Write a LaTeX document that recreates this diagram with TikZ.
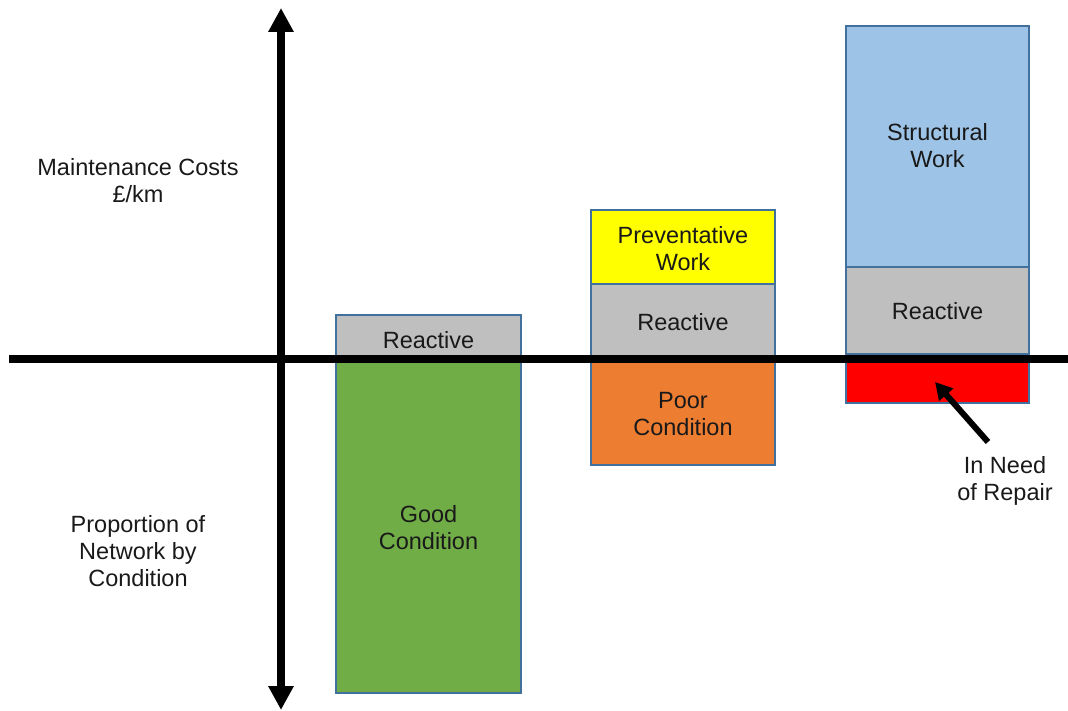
\documentclass[tikz,border=0pt]{standalone}
\usepackage{fontspec}
\setmainfont{Liberation Sans}
\usetikzlibrary{arrows.meta}
\definecolor{reactgrey}{HTML}{BFBFBF}
\definecolor{goodgreen}{HTML}{70AD47}
\definecolor{poororange}{HTML}{ED7D31}
\definecolor{prevyellow}{HTML}{FFFF00}
\definecolor{structblue}{HTML}{9DC3E6}
\definecolor{repairred}{HTML}{FF0000}
\definecolor{edgeblue}{HTML}{41719C}
\begin{document}
\begin{tikzpicture}[x=1pt,y=-1pt,
  bar/.style={draw=edgeblue, line width=2pt, inner sep=0pt, outer sep=0pt, anchor=north west},
  lbl/.style={align=center, font=\fontsize{23.5}{27}\selectfont, inner sep=0pt, text=black!90},
  axisline/.style={line width=8pt},
  axisends/.style={{Triangle[width=24pt,length=24pt]}-{Triangle[width=24pt,length=24pt]}},
]
\useasboundingbox (0,0) rectangle (1068,711);

% Good condition column
\node[bar, fill=goodgreen, minimum width=185pt, minimum height=335pt] (goodcond) at (336,358) {};
\node[bar, fill=reactgrey, minimum width=185pt, minimum height=43pt] (goodreact) at (336,315) {};

% Poor condition column
\node[bar, fill=poororange, minimum width=184pt, minimum height=107pt] (poorcond) at (591,358) {};
\node[bar, fill=reactgrey, minimum width=184pt, minimum height=74pt] (midreact) at (591,284) {};
\node[bar, fill=prevyellow, minimum width=184pt, minimum height=74pt] (prevwork) at (591,210) {};

% In need of repair column
\node[bar, fill=repairred, minimum width=183pt, minimum height=49pt] (repair) at (846,354) {};
\node[bar, fill=reactgrey, minimum width=183pt, minimum height=87pt] (rightreact) at (846,267) {};
\node[bar, fill=structblue, minimum width=183pt, minimum height=241pt] (structwork) at (846,26) {};

% Axes
\coordinate (xl) at (9,359);
\coordinate (xr) at (1068,359);
\coordinate (yb) at (281,710);
\coordinate (yt) at (281,8);
\draw[axisline] (xl) -- (xr);
\draw[axisline, axisends] (yb) -- (yt);

% Labels
\node[lbl] (costs) at (138,181) {Maintenance Costs\\£/km};
\node[lbl] (proportion) at (138,551) {Proportion of\\Network by\\Condition};
\node[lbl] (t1) at (428.5,340.5) {Reactive};
\node[lbl] (t2) at (428.5,527.5) {Good\\Condition};
\node[lbl] (t3) at (683,249) {Preventative\\Work};
\node[lbl] (t4) at (683,322) {Reactive};
\node[lbl] (t5) at (683,414) {Poor\\Condition};
\node[lbl] (t6) at (937.5,146) {Structural\\Work};
\node[lbl] (t7) at (937.5,311) {Reactive};
\node[lbl] (need) at (1005,481) {In Need\\of Repair};

% Pointer to the red block
\coordinate (tail) at (988,442);
\coordinate (tip) at (935,382);
\draw[line width=6pt, -{Triangle[width=18pt,length=17pt]}] (tail) -- (tip);
\end{tikzpicture}
\end{document}
